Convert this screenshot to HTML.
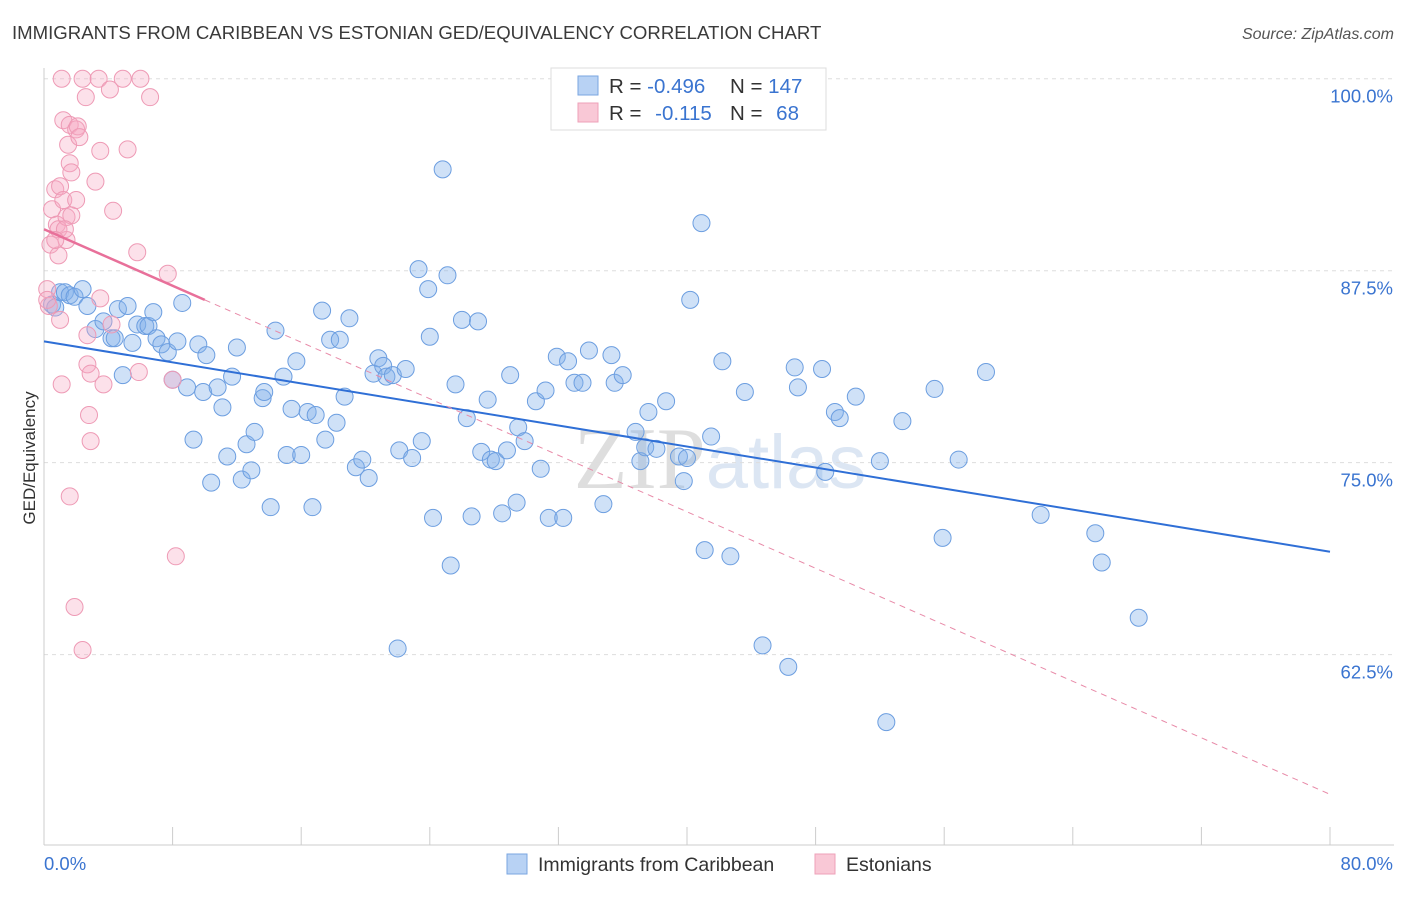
<!DOCTYPE html>
<html><head><meta charset="utf-8"><style>
body{margin:0;background:#fff;font-family:"Liberation Sans",sans-serif;}
svg text{font-family:"Liberation Sans",sans-serif;}
</style></head><body>
<svg id="chart" width="1406" height="892" xmlns="http://www.w3.org/2000/svg">
<text x="12" y="39" font-size="18.6" fill="#3a3a3a">IMMIGRANTS FROM CARIBBEAN VS ESTONIAN GED/EQUIVALENCY CORRELATION CHART</text>
<text x="1394" y="39" font-size="16" fill="#555" font-style="italic" text-anchor="end">Source: ZipAtlas.com</text>
<text x="720" y="488" font-size="88" fill="#e4e4e4" text-anchor="middle" font-family="Liberation Serif"><tspan fill="#dedede" font-family="Liberation Serif">ZIP</tspan><tspan fill="#dce6f3" font-family="Liberation Sans" font-size="76">atlas</tspan></text>
<g id="grid"></g>
<g id="axes"></g>
<g id="pts"></g>
<g id="trend"></g>
<text x="35" y="458" font-size="17" fill="#333" text-anchor="middle" transform="rotate(-90 35 458)">GED/Equivalency</text>
<g>
<rect x="551" y="68" width="275" height="62" fill="#fff" stroke="#ddd"/>
<rect x="578" y="76" width="20" height="19" fill="#b8d2f4" stroke="#7aa6e0"/>
<rect x="578" y="103" width="20" height="19" fill="#f9c8d6" stroke="#eea1b8"/>
<text x="609" y="93" font-size="20.5" fill="#333">R = <tspan fill="#3a74d0">-0.496</tspan></text>
<text x="730" y="93" font-size="20.5" fill="#333">N = <tspan fill="#3a74d0">147</tspan></text>
<text x="609" y="120" font-size="20.5" fill="#333">R = <tspan fill="#3a74d0" dx="8">-0.115</tspan></text>
<text x="730" y="120" font-size="20.5" fill="#333">N = <tspan fill="#3a74d0" dx="8">68</tspan></text>
</g>
<g>
<rect x="507" y="854" width="20" height="20" fill="#b8d2f4" stroke="#7aa6e0"/>
<text x="538" y="871" font-size="19.5" fill="#333">Immigrants from Caribbean</text>
<rect x="815" y="854" width="20" height="20" fill="#f9c8d6" stroke="#eea1b8"/>
<text x="846" y="871" font-size="19.5" fill="#333">Estonians</text>
</g>
</svg>
<script>
const blueX=[0.5,0.7,1.0,1.3,1.6,1.9,2.4,2.7,3.2,3.7,4.2,4.4,4.6,4.9,5.2,5.5,5.8,6.3,6.5,6.8,7.0,7.3,7.7,8.0,8.3,8.6,8.9,9.3,9.6,9.9,10.1,10.4,10.8,11.1,11.4,11.7,12.0,12.3,12.6,12.9,13.1,13.6,13.7,14.1,14.4,14.9,15.1,15.4,15.7,16.0,16.4,16.7,16.9,17.3,17.5,17.8,18.2,18.4,18.7,19.0,19.4,19.8,20.2,20.5,20.8,21.1,21.3,21.7,22.0,22.1,22.5,22.9,23.3,23.5,23.9,24.0,24.2,24.8,25.1,25.3,25.6,26.0,26.3,26.6,27.0,27.2,27.6,27.8,28.1,28.5,28.8,29.0,29.4,29.5,29.9,30.6,30.9,31.2,31.4,31.9,32.3,32.6,33.0,33.5,33.9,34.8,35.3,35.5,36.0,36.8,37.1,37.4,37.6,38.1,38.7,39.5,39.8,40.0,40.2,40.9,41.1,41.5,42.2,42.7,43.6,44.7,46.3,46.7,46.9,48.4,48.6,49.2,49.5,50.5,52.0,52.4,53.4,55.4,55.9,56.9,58.6,62.0,65.4,65.8,68.1];
const blueY=[85.3,85.1,86.1,86.1,85.9,85.8,86.3,85.2,83.7,84.2,83.1,83.1,85.0,80.7,85.2,82.8,84.0,83.9,83.9,84.8,83.1,82.7,82.2,80.4,82.9,85.4,79.9,76.5,82.7,79.6,82.0,73.7,79.9,78.6,75.4,80.6,82.5,73.9,76.2,74.5,77.0,79.2,79.6,72.1,83.6,80.6,75.5,78.5,81.6,75.5,78.3,72.1,78.1,84.9,76.5,83.0,77.6,83.0,79.3,84.4,74.7,75.2,74.0,80.8,81.8,81.3,80.6,80.7,62.9,75.8,81.1,75.3,87.6,76.4,86.3,83.2,71.4,94.1,87.2,68.3,80.1,84.3,77.9,71.5,84.2,75.7,79.1,75.2,75.1,71.7,75.8,80.7,72.4,77.3,76.4,79.0,74.6,79.7,71.4,81.9,71.4,81.6,80.2,80.2,82.3,72.3,82.0,80.2,80.7,77.0,75.1,76.0,78.3,75.9,79.0,75.4,73.8,75.3,85.6,90.6,69.3,76.7,81.6,68.9,79.6,63.1,61.7,81.2,79.9,81.1,74.4,78.3,77.9,79.3,75.1,58.1,77.7,79.8,70.1,75.2,80.9,71.6,70.4,68.5,64.9];
const pinkX=[0.2,0.3,0.4,0.5,0.7,0.8,0.9,1.0,0.9,1.0,1.1,1.1,1.2,1.2,1.4,1.4,1.5,1.6,1.6,1.6,1.7,1.7,2.0,1.9,2.0,2.1,2.4,2.4,2.6,2.7,2.7,2.8,2.9,2.9,3.2,3.4,3.5,3.7,4.1,4.2,4.3,4.9,5.2,5.8,5.9,6.0,6.6,7.7,8.0,8.2,3.5,2.2,1.3,0.7,0.2];
const pinkY=[86.3,85.2,89.2,91.5,92.8,90.5,88.5,93.0,90.2,84.3,80.1,100,92.1,97.3,91.0,89.5,95.7,72.8,97.0,94.5,93.9,91.1,92.1,65.6,96.7,96.9,62.8,100,98.8,83.3,81.4,78.1,76.4,80.8,93.3,100,95.3,80.1,99.3,84.0,91.4,100,95.4,88.7,80.9,100,98.8,87.3,80.4,68.9,85.7,96.2,90.2,89.5,85.6];
const blueTrend=[82.9,69.2];
const pinkTrend=[90.2,53.4];
const yTicks=[100,87.5,75,62.5];
const yTickLabels=["100.0%","87.5%","75.0%","62.5%"];
const NS="http://www.w3.org/2000/svg";
const X0=44,X1=1330,XMAX=80,YB=845,YMIN=50.1,YMAX=100.7,YT=68;
const sx=v=>X0+(v/XMAX)*(X1-X0);
const sy=v=>YB-(v-YMIN)/(YMAX-YMIN)*(YB-YT);
function mk(tag,attrs,parent){const e=document.createElementNS(NS,tag);for(const k in attrs)e.setAttribute(k,attrs[k]);document.getElementById(parent).appendChild(e);return e;}
yTicks.forEach((t,i)=>{
 const l=mk('line',{x1:X0,x2:1394,y1:sy(t),y2:sy(t),stroke:'#ddd','stroke-dasharray':'4,4'},'grid');
 
 
 const tx=mk('text',{x:1393,y:sy(t)+24,'font-size':18.5,fill:'#3a74d0','text-anchor':'end'},'axes');
 tx.textContent=yTickLabels[i];
 
 
});
const ax=mk('line',{x1:X0,x2:1394,y1:YB,y2:YB,stroke:'#ccc'},'axes');


const ay=mk('line',{x1:X0,x2:X0,y1:YT,y2:YB,stroke:'#ccc'},'axes');


for(let i=0;i<=10;i++){const v=i*8;
 const tk=mk('line',{x1:sx(v),x2:sx(v),y1:YB,y2:YB-18,stroke:'#ccc'},'axes');
 
 
}
const xl0=mk('text',{x:44,y:870,'font-size':18.5,fill:'#3a74d0'},'axes');xl0.textContent='0.0%';


const xl1=mk('text',{x:1393,y:870,'font-size':18.5,fill:'#3a74d0','text-anchor':'end'},'axes');xl1.textContent='80.0%';


blueX.forEach((x,i)=>{
 const c=mk('circle',{cx:sx(x),cy:sy(blueY[i]),r:8.5,fill:'rgba(130,175,235,0.38)',stroke:'#6c9ee0','stroke-width':1},'pts');
 
 
});
pinkX.forEach((x,i)=>{
 const c=mk('circle',{cx:sx(x),cy:sy(pinkY[i]),r:8.5,fill:'rgba(245,170,195,0.35)',stroke:'#ee9ab5','stroke-width':1},'pts');
 
 
});
const bt=mk('line',{x1:sx(0),y1:sy(blueTrend[0]),x2:sx(80),y2:sy(blueTrend[1]),stroke:'#2f6fd6','stroke-width':2},'trend');


const pAt=x=>pinkTrend[0]+(pinkTrend[1]-pinkTrend[0])*x/80;
const pd=mk('line',{x1:sx(10),y1:sy(pAt(10)),x2:sx(80),y2:sy(pAt(80)),stroke:'#e88aa8','stroke-width':1,'stroke-dasharray':'6,5'},'trend');


const ps=mk('line',{x1:sx(0),y1:sy(pAt(0)),x2:sx(10),y2:sy(pAt(10)),stroke:'#e8709a','stroke-width':2.5},'trend');


</script>
</body></html>
